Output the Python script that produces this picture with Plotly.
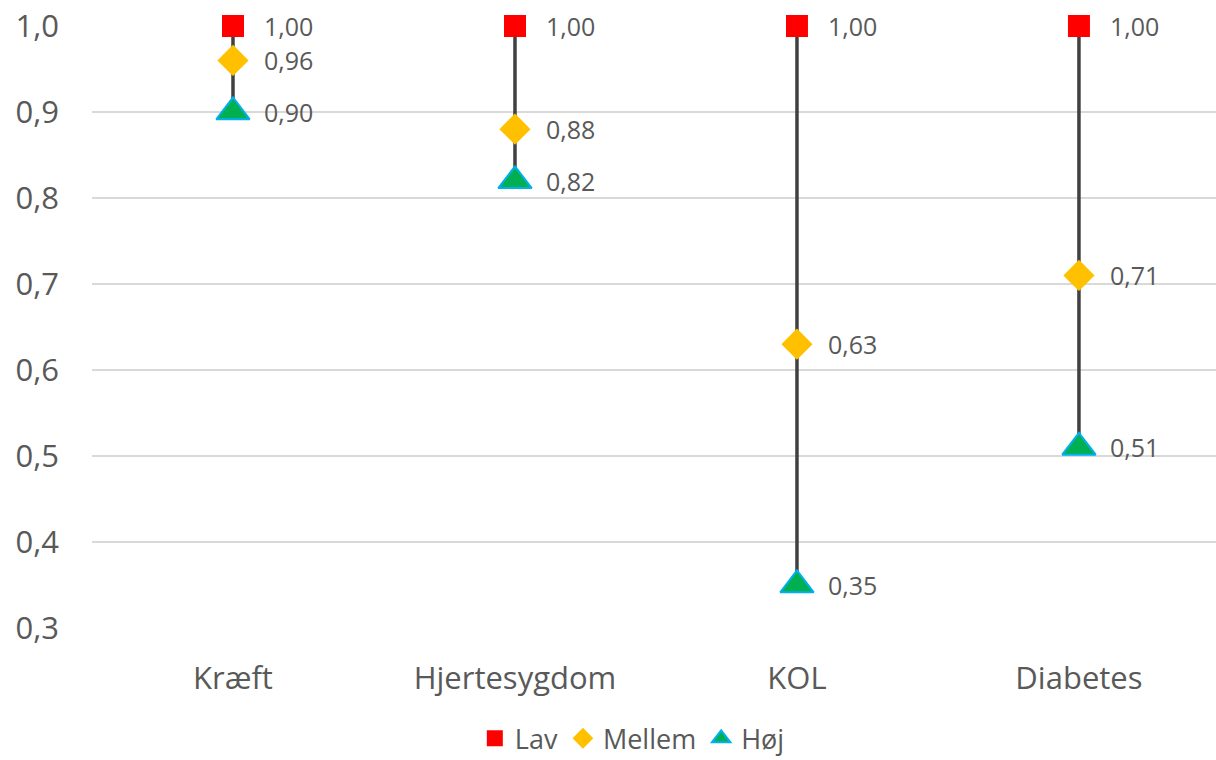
import plotly.graph_objects as go

categories = ["Kræft", "Hjertesygdom", "KOL", "Diabetes"]
lav = [1.00, 1.00, 1.00, 1.00]
mellem = [0.96, 0.88, 0.63, 0.71]
hoj = [0.90, 0.82, 0.35, 0.51]
y_ticks = [0.3, 0.4, 0.5, 0.6, 0.7, 0.8, 0.9, 1.0]

FONT = "Open Sans, Lato, sans-serif"
GREY = "#595959"
label_font = dict(family=FONT, size=25, color=GREY)

fig = go.Figure()

# high-low connector for each category
line_x, line_y = [], []
for i, c in enumerate(categories):
    line_x += [i, i, None]
    line_y += [lav[i], hoj[i], None]
fig.add_trace(go.Scatter(
    x=line_x, y=line_y, mode="lines",
    line=dict(color="#404040", width=3.5),
    showlegend=False, hoverinfo="skip", cliponaxis=False,
))

series = [
    ("Lav", lav, dict(symbol="square", size=22, color="#FF0000",
                      line=dict(width=0))),
    ("Mellem", mellem, dict(symbol="diamond", size=24, color="#FFC000",
                            line=dict(width=0))),
    ("Høj", hoj, dict(symbol="triangle-up", size=29, color="#00B050",
                      line=dict(color="#00B0F0", width=2))),
]
for name, vals, marker in series:
    fig.add_trace(go.Scatter(
        x=list(range(len(categories))), y=vals, mode="markers",
        name=name, marker=marker, cliponaxis=False,
    ))
    for i, v in enumerate(vals):
        fig.add_annotation(
            x=i, y=v, text=f"{v:.2f}".replace(".", ","),
            showarrow=False, xanchor="left", yanchor="middle",
            xshift=29, font=label_font,
        )

fig.update_layout(
    width=1216, height=760,
    margin=dict(l=92, r=0, t=26, b=132),
    paper_bgcolor="white", plot_bgcolor="white",
    separators=",.",
    font=dict(family=FONT, color=GREY),
    showlegend=True,
    legend=dict(
        orientation="h", xref="container", yref="container",
        x=0.52, xanchor="center", y=0.028, yanchor="middle",
        font=dict(size=27, color=GREY),
        itemsizing="trace", tracegroupgap=0,
    ),
    xaxis=dict(
        range=[-0.5, 3.486],
        tickmode="array", tickvals=list(range(len(categories))),
        ticktext=categories,
        showgrid=False, zeroline=False, showline=False, ticks="",
        tickfont=dict(size=31, color=GREY),
        ticklabelstandoff=29,
    ),
    yaxis=dict(
        range=[0.3, 1.0],
        tickmode="array", tickvals=y_ticks, tickformat=".1f",
        showgrid=True, gridcolor="#D9D9D9", gridwidth=1.5,
        zeroline=False, showline=False, ticks="",
        tickfont=dict(size=31, color=GREY),
        ticklabelstandoff=32,
    ),
)

fig.write_html("out.html")
